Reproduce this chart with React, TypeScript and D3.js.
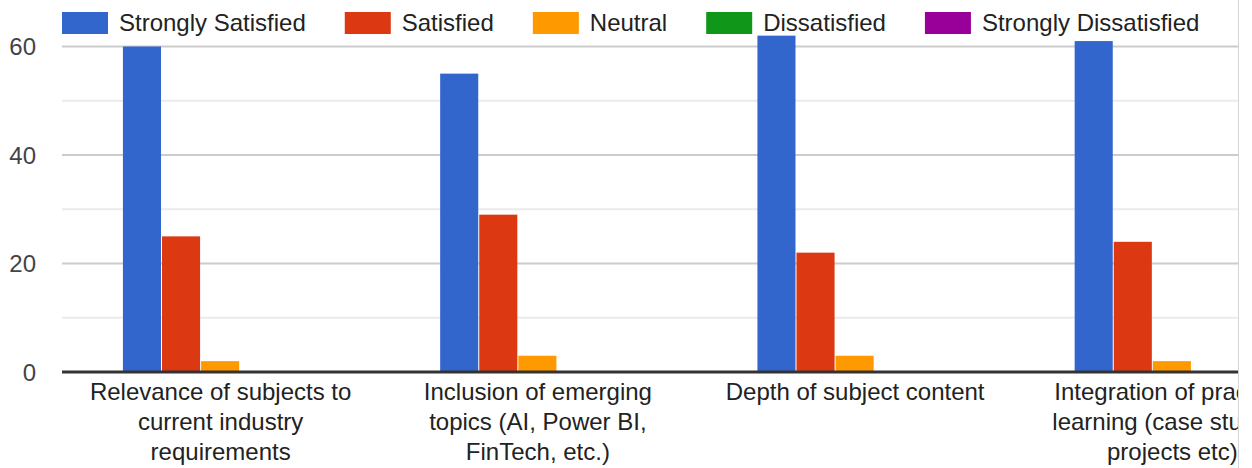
import { useEffect, useRef } from 'react'
import * as d3 from 'd3'

const categories = [
  'Relevance of subjects to current industry requirements',
  'Inclusion of emerging topics (AI, Power BI, FinTech, etc.)',
  'Depth of subject content',
  'Integration of practical learning (case studies, projects etc)',
]
// wrapped tick labels, as the chart breaks them
const categoryLines = [
  ['Relevance of subjects to', 'current industry', 'requirements'],
  ['Inclusion of emerging', 'topics (AI, Power BI,', 'FinTech, etc.)'],
  ['Depth of subject content'],
  ['Integration of practical', 'learning (case studies,', 'projects etc)'],
]
const seriesNames = ['Strongly Satisfied', 'Satisfied', 'Neutral', 'Dissatisfied', 'Strongly Dissatisfied']
const stronglySatisfied = [60, 55, 62, 61]
const satisfied = [25, 29, 22, 24]
const neutral = [2, 3, 3, 2]
const dissatisfied = [0, 0, 0, 0]
const stronglyDissatisfied = [0, 0, 0, 0]
const majorTicks = [0, 20, 40, 60]
const minorTicks = [10, 30, 50]

const colors = ['#3366cc', '#dc3912', '#ff9900', '#109618', '#990099']
const W = 1252
const H = 468
const FONT = '"Liberation Sans", Arial, sans-serif'

export default function App() {
  const svgRef = useRef<SVGSVGElement>(null)

  useEffect(() => {
    document.body.style.margin = '0'
    if (!svgRef.current) return
    const svg = d3.select(svgRef.current)
    svg.selectAll('*').remove()

    const values = [stronglySatisfied, satisfied, neutral, dissatisfied, stronglyDissatisfied]
    const left = 62
    const right = 1331 // plot runs past the visible edge
    const clipX = 1238
    const labelLimit = 1292.5

    const x0 = d3.scaleBand<string>().domain(categories).range([left, right])
    const gap = x0.bandwidth() * 0.192
    const x1 = d3.scaleBand<string>().domain(seriesNames).range([gap, x0.bandwidth() - gap])
    const y = d3.scaleLinear().domain([0, 60]).range([372, 46.5])

    svg.append('defs').append('clipPath').attr('id', 'vis')
      .append('rect').attr('x', 0).attr('y', 0).attr('width', clipX).attr('height', H)

    const g = svg.append('g').attr('clip-path', 'url(#vis)')

    g.selectAll('line.minor').data(minorTicks).join('line')
      .attr('x1', left).attr('x2', right)
      .attr('y1', d => y(d)).attr('y2', d => y(d))
      .attr('stroke', '#ebebeb').attr('stroke-width', 2)

    g.selectAll('line.major').data(majorTicks.filter(d => d !== 0)).join('line')
      .attr('x1', left).attr('x2', right)
      .attr('y1', d => y(d)).attr('y2', d => y(d))
      .attr('stroke', '#cccccc').attr('stroke-width', 2)

    categories.forEach((cat, ci) => {
      seriesNames.forEach((s, si) => {
        const v = values[si][ci]
        if (v <= 0) return
        g.append('rect')
          .attr('x', x0(cat)! + x1(s)!)
          .attr('y', y(v))
          .attr('width', x1.bandwidth() - 1)
          .attr('height', y(0) - y(v))
          .attr('fill', colors[si])
      })
    })

    g.append('line')
      .attr('x1', left).attr('x2', right)
      .attr('y1', y(0)).attr('y2', y(0))
      .attr('stroke', '#333333').attr('stroke-width', 3)

    // y labels
    svg.selectAll('text.ylab').data(majorTicks).join('text')
      .attr('x', 36).attr('y', d => y(d)).attr('dy', '0.36em')
      .attr('text-anchor', 'end')
      .attr('font-family', FONT).attr('font-size', 24).attr('fill', '#444444')
      .text(d => d)

    // category labels, shifted left when they would run past the chart edge
    categories.forEach((cat, ci) => {
      const t = g.append('text')
        .attr('font-family', FONT).attr('font-size', 24).attr('fill', '#222222')
        .attr('text-anchor', 'middle')
      const lines = categoryLines[ci]
      const spans = lines.map((ln, li) =>
        t.append('tspan').attr('y', 400 + li * 30).text(ln))
      const widest = d3.max(spans, sp => (sp.node() as SVGTSpanElement).getComputedTextLength()) ?? 0
      const cx = Math.min(x0(cat)! + x0.bandwidth() / 2, labelLimit - widest / 2)
      spans.forEach(sp => sp.attr('x', cx))
    })

    // legend
    const lg = g.append('g')
    let lx = 62
    seriesNames.forEach((s, si) => {
      lg.append('rect').attr('x', lx).attr('y', 12).attr('width', 46).attr('height', 22).attr('fill', colors[si])
      const t = lg.append('text')
        .attr('x', lx + 57).attr('y', 31)
        .attr('font-family', FONT).attr('font-size', 24).attr('fill', '#222222')
        .text(s)
      lx += 57 + (t.node() as SVGTextElement).getComputedTextLength() + 39
    })

    svg.append('line')
      .attr('x1', clipX + 0.5).attr('x2', clipX + 0.5)
      .attr('y1', 0).attr('y2', H)
      .attr('stroke', '#d6d6d6').attr('stroke-width', 1)
  }, [])

  return <svg ref={svgRef} width={W} height={H} style={{ display: 'block', background: '#fff' }} />
}
